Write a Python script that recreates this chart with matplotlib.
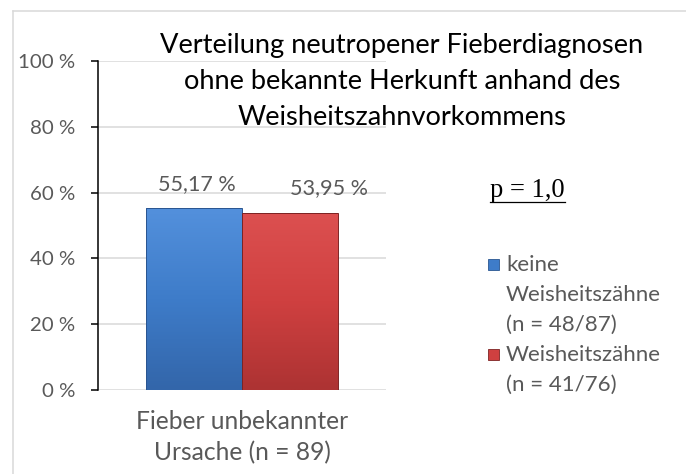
import numpy as np
from matplotlib import pyplot as plt
from matplotlib.lines import Line2D
from matplotlib.patches import Rectangle
from matplotlib.colors import LinearSegmentedColormap
from matplotlib.transforms import blended_transform_factory

plt.rcParams['font.family'] = ['Lato', 'DejaVu Sans']

title_lines = ['Verteilung neutropener Fieberdiagnosen',
               'ohne bekannte Herkunft anhand des',
               'Weisheitszahnvorkommens']
category_lines = ['Fieber unbekannter', 'Ursache (n = 89)']
series_names = [['keine', 'Weisheitszähne', '(n = 48/87)'], ['Weisheitszähne', '(n = 41/76)']]
values = [55.17, 53.95]
value_labels = ['55,17 %', '53,95 %']
yticks = [0, 20, 40, 60, 80, 100]
ytick_labels = ['0 %', '20 %', '40 %', '60 %', '80 %', '100 %']
p_text = 'p = 1,0'

gray = '#595959'
gradients = [['#5390dc', '#3e7cc9', '#3366aa'], ['#dc5050', '#cf4040', '#ad3333']]
edges = ['#2a5590', '#7d2323']

W, H = 686, 474
fig = plt.figure(figsize=(W / 100, H / 100), dpi=100)
renderer = fig.canvas.get_renderer()


def fit(text, target_px, **kw):
    # font size that gives the text the width seen in the reference
    t = fig.text(0, 0, text, fontsize=20, **kw)
    w = t.get_window_extent(renderer).width
    t.remove()
    return 20 * target_px / w


fs_title = fit(title_lines[0], 488)
fs_tick = fit('100 %', 57)
fs_value = fit(value_labels[0], 78)
fs_legend = fit('Weisheitszähne', 155)
fs_cat = fit(category_lines[0], 213)
fs_p = fit(p_text, 75, family=['Liberation Serif'])


def fy(px):
    return 1 - px / H


ax = fig.add_axes([98 / W, fy(390), (386 - 98) / W, (390 - 61) / H])

# chart frame, only top and left edge inside the picture
fig.add_artist(Line2D([13 / W, 1], [fy(11), fy(11)], color='#d9d9d9', lw=1.1, transform=fig.transFigure))
fig.add_artist(Line2D([13 / W, 13 / W], [0, fy(11)], color='#d9d9d9', lw=1.1, transform=fig.transFigure))

width = 0.332
offsets = [-width / 2, width / 2]
label_dx = [0.01, 0.136]
for i, v in enumerate(values):
    b = ax.bar(offsets[i], v, width, color='none', edgecolor=edges[i], lw=0.7, zorder=3)[0]
    cmap = LinearSegmentedColormap.from_list('g%d' % i, gradients[i][::-1])
    grad = np.linspace(0, 1, 100).reshape(-1, 1)
    im = ax.imshow(grad, cmap=cmap, aspect='auto', origin='lower',
                   extent=[b.get_x(), b.get_x() + b.get_width(), 0, v], zorder=2)
    im.set_clip_path(b)
    ax.text(offsets[i] + label_dx[i], v + 5.5, value_labels[i], ha='center', va='baseline',
            fontsize=fs_value, color=gray)

ax.set_xlim(-0.5, 0.5)
ax.set_ylim(0, 100)
ax.set_yticks(yticks)
ax.set_yticklabels(ytick_labels, fontsize=fs_tick, color=gray)
ax.set_xticks([])
ax.tick_params(axis='y', length=5, width=1.1, color='black', pad=11.5, direction='out')
ax.grid(axis='y', color='#d9d9d9', lw=1.1, zorder=0)
ax.set_axisbelow(True)
for s in ['top', 'right', 'bottom']:
    ax.spines[s].set_visible(False)
ax.spines['left'].set_linewidth(1.1)
ax.set_facecolor('none')

# category label under the bars
trans = blended_transform_factory(ax.transData, fig.transFigure)
for j, line in enumerate(category_lines):
    ax.text(0, fy([429, 460][j]), line, transform=trans, ha='center', va='baseline',
            fontsize=fs_cat, color=gray, clip_on=False)

for j, line in enumerate(title_lines):
    fig.text(402 / W, fy([53, 89, 125][j]), line, ha='center', va='baseline',
             fontsize=fs_title, color='black', zorder=5)

fig.text(527 / W, fy(197), p_text, ha='center', va='baseline', fontsize=fs_p,
         family=['Liberation Serif'], color='black')
fig.add_artist(Line2D([490 / W, 565 / W], [fy(202), fy(202)], color='black', lw=0.9, transform=fig.transFigure))

# legend
rows = [[265, 295, 325], [355, 385]]
for i, name in enumerate(series_names):
    y0 = rows[i][0]
    fig.add_artist(Rectangle((488 / W, fy(y0 + 5)), 11 / W, 11 / H, facecolor=gradients[i][1],
                             edgecolor=edges[i], lw=0.6, transform=fig.transFigure))
    for j, line in enumerate(name):
        fig.text(506 / W, fy(rows[i][j]), line, ha='left', va='center', fontsize=fs_legend, color=gray)

fig.savefig('out.png', dpi=100)
